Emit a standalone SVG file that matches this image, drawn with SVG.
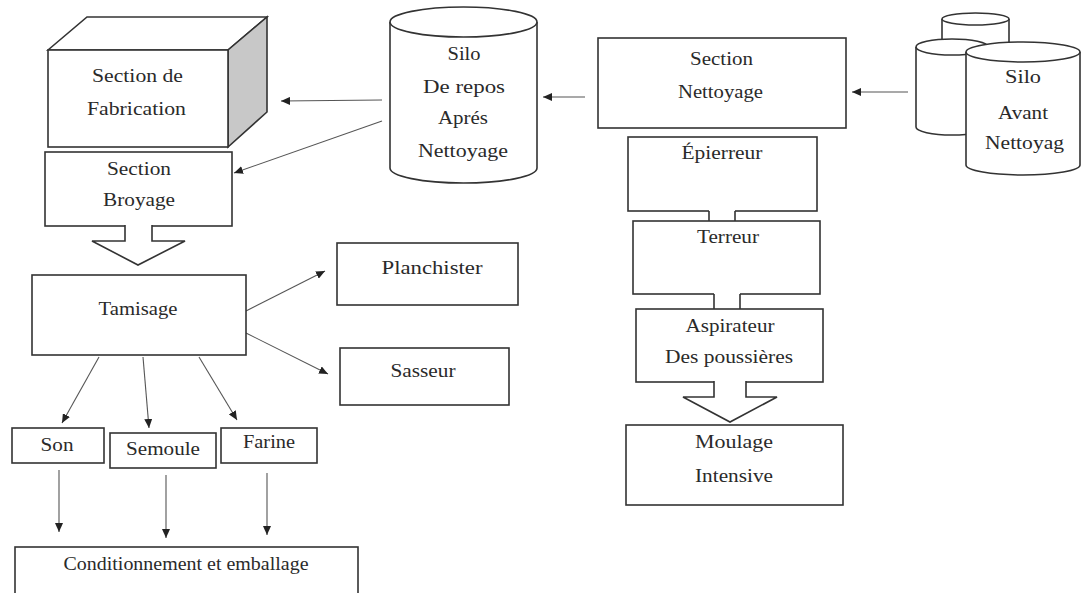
<svg xmlns="http://www.w3.org/2000/svg" width="1081" height="593" viewBox="0 0 1081 593">
<style>
.box{fill:#fff;stroke:#333;stroke-width:1.6}
.blk{fill:#fff;stroke:#333;stroke-width:1.6}
.con{stroke:#555;stroke-width:1.1;fill:none;marker-end:url(#ah)}
text{font-family:"Liberation Serif","Times New Roman",serif;font-size:18px;fill:#2a2a2a;text-anchor:middle}
</style>
<defs>
<marker id="ah" markerWidth="10" markerHeight="8" refX="9" refY="4" orient="auto" markerUnits="userSpaceOnUse">
<path d="M0,0 L9,4 L0,8 Z" fill="#222"/>
</marker>
</defs>
<rect width="1081" height="593" fill="#fff"/>

<g id="connectors">
<line class="con" x1="382" y1="100" x2="281" y2="101"/>
<line class="con" x1="382" y1="121" x2="234" y2="173"/>
<line class="con" x1="585" y1="97" x2="543" y2="97"/>
<line class="con" x1="908" y1="92" x2="852" y2="92"/>
<line class="con" x1="246" y1="311" x2="325" y2="271"/>
<line class="con" x1="246" y1="333" x2="328" y2="374"/>
<line class="con" x1="99" y1="357" x2="62" y2="423"/>
<line class="con" x1="143" y1="357" x2="149" y2="428"/>
<line class="con" x1="199" y1="357" x2="237" y2="420"/>
<line class="con" x1="59" y1="470" x2="59" y2="532"/>
<line class="con" x1="166" y1="475" x2="166" y2="538"/>
<line class="con" x1="267" y1="473" x2="267" y2="535"/>
</g>

<g id="fabrication">
<polygon class="box" points="48,50 87,17 267,17 228,50"/>
<polygon points="228,50 267,17 267,112 228,147" fill="#c8c8c8" stroke="#333" stroke-width="1.6"/>
<rect class="box" x="48" y="50" width="180" height="97"/>
<text x="137.5" y="82" textLength="91" lengthAdjust="spacingAndGlyphs">Section de</text>
<text x="136.5" y="115" textLength="99" lengthAdjust="spacingAndGlyphs">Fabrication</text>
</g>

<g id="broyage">
<rect class="box" x="45" y="152" width="187" height="74"/>
<text x="139" y="175" textLength="64" lengthAdjust="spacingAndGlyphs">Section</text>
<text x="139" y="206" textLength="72" lengthAdjust="spacingAndGlyphs">Broyage</text>
</g>

<g id="arrow-broyage-tamisage">
<polyline class="blk" points="125,225 125,241 92,241 138,265 185,241 152,241 152,225"/>
</g>

<g id="silo-repos">
<path class="box" d="M390,22 L390,168 A73.5,15 0 0 0 537,168 L537,22"/>
<ellipse class="box" cx="463.5" cy="22" rx="73.5" ry="15"/>
<text x="464" y="60" textLength="33" lengthAdjust="spacingAndGlyphs">Silo</text>
<text x="464" y="93" textLength="82" lengthAdjust="spacingAndGlyphs">De repos</text>
<text x="463" y="124" textLength="50" lengthAdjust="spacingAndGlyphs">Aprés</text>
<text x="463" y="157" textLength="90" lengthAdjust="spacingAndGlyphs">Nettoyage</text>
</g>

<g id="section-nettoyage">
<rect class="box" x="598" y="38" width="248" height="90"/>
<text x="721.5" y="65" textLength="63" lengthAdjust="spacingAndGlyphs">Section</text>
<text x="720.5" y="98" textLength="85" lengthAdjust="spacingAndGlyphs">Nettoyage</text>
</g>

<g id="silos-avant">
<path class="box" d="M942,19 L942,60 L1009,60 L1009,19"/>
<ellipse class="box" cx="975.5" cy="19" rx="33.5" ry="6"/>
<path class="box" d="M916,47 L916,127 A36,8 0 0 0 988,127 L988,47"/>
<ellipse class="box" cx="952" cy="47" rx="36" ry="8"/>
<path class="box" d="M966,52 L966,165 A57,10 0 0 0 1080,165 L1080,52"/>
<ellipse class="box" cx="1023" cy="52" rx="57" ry="10"/>
<text x="1023" y="83" textLength="36" lengthAdjust="spacingAndGlyphs">Silo</text>
<text x="1023" y="119" textLength="50" lengthAdjust="spacingAndGlyphs">Avant</text>
<text x="1024.5" y="149" textLength="79" lengthAdjust="spacingAndGlyphs">Nettoyag</text>
</g>

<g id="epierreur">
<rect class="box" x="628" y="137" width="189" height="74"/>
<text x="722" y="159" textLength="81" lengthAdjust="spacingAndGlyphs">Épierreur</text>
</g>

<g id="neck1">
<rect x="709" y="210" width="26" height="12" fill="#fff"/>
<line x1="709" y1="211" x2="709" y2="221" stroke="#333" stroke-width="1.6"/>
<line x1="735" y1="211" x2="735" y2="221" stroke="#333" stroke-width="1.6"/>
</g>

<g id="terreur">
<rect class="box" x="633" y="221" width="187" height="73"/>
<text x="728" y="243" textLength="62" lengthAdjust="spacingAndGlyphs">Terreur</text>
</g>

<g id="neck2">
<rect x="714" y="293" width="26" height="17" fill="#fff"/>
<line x1="714" y1="294" x2="714" y2="309" stroke="#333" stroke-width="1.6"/>
<line x1="740" y1="294" x2="740" y2="309" stroke="#333" stroke-width="1.6"/>
</g>

<g id="aspirateur">
<rect class="box" x="636" y="309" width="187" height="73"/>
<text x="730" y="332" textLength="89" lengthAdjust="spacingAndGlyphs">Aspirateur</text>
<text x="729" y="363" textLength="128" lengthAdjust="spacingAndGlyphs">Des poussières</text>
</g>

<g id="arrow-aspirateur-moulage">
<polyline class="blk" points="714,381 714,397 683,397 730,422 777,397 746,397 746,381"/>
</g>

<g id="moulage">
<rect class="box" x="626" y="425" width="217" height="80"/>
<text x="734" y="448" textLength="78" lengthAdjust="spacingAndGlyphs">Moulage</text>
<text x="734" y="482" textLength="78" lengthAdjust="spacingAndGlyphs">Intensive</text>
</g>

<g id="tamisage">
<rect class="box" x="32" y="275" width="214" height="80"/>
<text x="138" y="315" textLength="79" lengthAdjust="spacingAndGlyphs">Tamisage</text>
</g>

<g id="planchister">
<rect class="box" x="337" y="243" width="181" height="62"/>
<text x="432" y="274" textLength="101" lengthAdjust="spacingAndGlyphs">Planchister</text>
</g>

<g id="sasseur">
<rect class="box" x="340" y="348" width="169" height="57"/>
<text x="423" y="377" textLength="65" lengthAdjust="spacingAndGlyphs">Sasseur</text>
</g>

<g id="son">
<rect class="box" x="12" y="428" width="92" height="35"/>
<text x="57" y="451" textLength="33" lengthAdjust="spacingAndGlyphs">Son</text>
</g>

<g id="semoule">
<rect class="box" x="110" y="433" width="106" height="35"/>
<text x="163" y="455" textLength="74" lengthAdjust="spacingAndGlyphs">Semoule</text>
</g>

<g id="farine">
<rect class="box" x="221" y="428" width="96" height="35"/>
<text x="269" y="448" textLength="52" lengthAdjust="spacingAndGlyphs">Farine</text>
</g>

<g id="conditionnement">
<rect class="box" x="15" y="547" width="343" height="60"/>
<text x="186" y="570" textLength="245" lengthAdjust="spacingAndGlyphs">Conditionnement et emballage</text>
</g>
</svg>
